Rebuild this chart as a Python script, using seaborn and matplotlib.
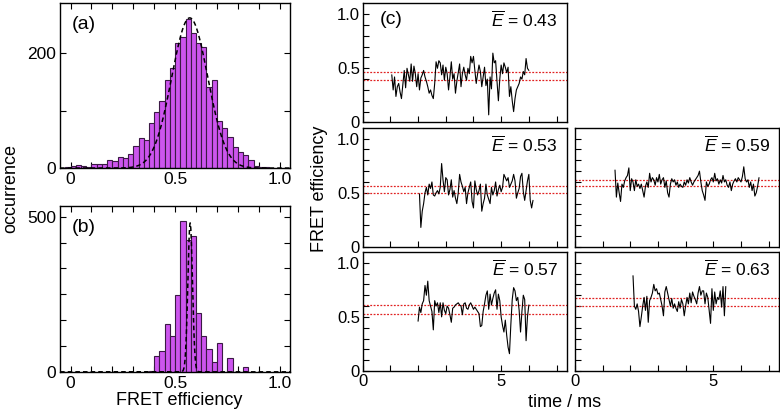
import numpy as np
import pandas as pd
import seaborn as sns
import matplotlib.pyplot as plt

sns.set_theme(style='ticks')
plt.rcParams['font.family'] = ['Liberation Sans', 'DejaVu Sans']
plt.rcParams['mathtext.fontset'] = 'custom'
plt.rcParams['mathtext.it'] = 'Liberation Sans:italic'
plt.rcParams['mathtext.rm'] = 'Liberation Sans'
plt.rcParams['axes.edgecolor'] = 'black'
plt.rcParams['axes.linewidth'] = 1.0
plt.rcParams['text.color'] = 'black'
plt.rcParams['xtick.labelcolor'] = 'black'
plt.rcParams['ytick.labelcolor'] = 'black'

# %% histogram data (bin width 0.025)
bin_w = 0.025
hist_a_start = -0.025
hist_a_counts = [1, 4, 5, 3, 1, 7, 7, 7, 14, 12, 20, 18, 25, 39, 53, 49, 79, 98, 116, 153,
                 174, 218, 228, 259, 234, 217, 211, 141, 153, 82, 69, 54, 37, 28, 23, 14, 4, 2, 1]
hist_b_start = 0.375
hist_b_counts = [2, 50, 67, 154, 116, 248, 485, 424, 439, 191, 114, 74, 32, 92, 0, 46, 0, 0, 17]

# gaussian fits (amplitude, mean, sigma)
fit_a = (261, 0.57, 0.086)
fit_b = (480, 0.572, 0.011)

# %% single-molecule traces (bin 0.05 ms)
dt = 0.05
traces = {
    'tl': dict(t0=1.05, mean='0.43', band=(0.39, 0.47), e=[
        0.44, 0.30, 0.42, 0.24, 0.33, 0.36, 0.28, 0.22, 0.35, 0.48, 0.32, 0.50, 0.44, 0.38, 0.54,
        0.38, 0.52, 0.45, 0.33, 0.45, 0.30, 0.41, 0.44, 0.48, 0.42, 0.38, 0.33, 0.27, 0.30, 0.25,
        0.22, 0.36, 0.56, 0.50, 0.57, 0.55, 0.44, 0.53, 0.39, 0.51, 0.45, 0.30, 0.42, 0.56, 0.40,
        0.45, 0.27, 0.38, 0.46, 0.54, 0.33, 0.45, 0.51, 0.44, 0.39, 0.50, 0.45, 0.61, 0.55, 0.61,
        0.48, 0.36, 0.45, 0.53, 0.47, 0.33, 0.42, 0.51, 0.34, 0.40, 0.07, 0.42, 0.31, 0.64, 0.55,
        0.57, 0.38, 0.20, 0.40, 0.53, 0.45, 0.55, 0.51, 0.46, 0.51, 0.24, 0.33, 0.20, 0.10, 0.22,
        0.30, 0.33, 0.36, 0.42, 0.40, 0.47, 0.44, 0.59, 0.50, 0.48]),
    'ml': dict(t0=2.05, mean='0.53', band=(0.50, 0.56), e=[
        0.49, 0.18, 0.33, 0.40, 0.50, 0.55, 0.48, 0.58, 0.54, 0.60, 0.48, 0.47, 0.50, 0.52, 0.49,
        0.55, 0.77, 0.62, 0.51, 0.64, 0.62, 0.48, 0.53, 0.62, 0.46, 0.52, 0.45, 0.40, 0.50, 0.67,
        0.60, 0.56, 0.51, 0.55, 0.40, 0.50, 0.55, 0.60, 0.42, 0.36, 0.61, 0.53, 0.48, 0.52, 0.58,
        0.33, 0.40, 0.45, 0.58, 0.48, 0.44, 0.40, 0.55, 0.48, 0.52, 0.60, 0.47, 0.53, 0.57, 0.51,
        0.55, 0.67, 0.64, 0.61, 0.64, 0.55, 0.58, 0.61, 0.67, 0.61, 0.45, 0.50, 0.54, 0.65, 0.68,
        0.51, 0.43, 0.52, 0.61, 0.67, 0.43, 0.36, 0.43]),
    'mr': dict(t0=1.45, mean='0.59', band=(0.565, 0.62), e=[
        0.71, 0.46, 0.59, 0.50, 0.42, 0.58, 0.55, 0.61, 0.64, 0.66, 0.73, 0.52, 0.63, 0.60, 0.52,
        0.62, 0.56, 0.58, 0.54, 0.58, 0.52, 0.46, 0.56, 0.60, 0.55, 0.68, 0.60, 0.64, 0.62, 0.57,
        0.64, 0.60, 0.67, 0.58, 0.62, 0.64, 0.55, 0.61, 0.50, 0.46, 0.58, 0.63, 0.60, 0.62, 0.57,
        0.60, 0.55, 0.58, 0.56, 0.55, 0.60, 0.57, 0.62, 0.59, 0.64, 0.60, 0.57, 0.60, 0.62, 0.64,
        0.66, 0.70, 0.60, 0.52, 0.48, 0.43, 0.60, 0.56, 0.58, 0.62, 0.64, 0.60, 0.68, 0.61, 0.63,
        0.58, 0.62, 0.59, 0.66, 0.60, 0.62, 0.57, 0.55, 0.60, 0.52, 0.58, 0.61, 0.63, 0.60, 0.64,
        0.62, 0.60, 0.65, 0.74, 0.63, 0.60, 0.62, 0.55, 0.60, 0.52, 0.58, 0.47, 0.50, 0.56, 0.64]),
    'bl': dict(t0=2.00, mean='0.57', band=(0.53, 0.61), e=[
        0.46, 0.59, 0.54, 0.62, 0.65, 0.79, 0.70, 0.83, 0.65, 0.60, 0.55, 0.38, 0.65, 0.60, 0.63,
        0.54, 0.63, 0.50, 0.63, 0.56, 0.53, 0.60, 0.58, 0.52, 0.45, 0.58, 0.59, 0.61, 0.62, 0.63,
        0.61, 0.60, 0.52, 0.62, 0.63, 0.58, 0.57, 0.61, 0.63, 0.60, 0.57, 0.59, 0.57, 0.55, 0.53,
        0.41, 0.42, 0.55, 0.62, 0.70, 0.74, 0.57, 0.71, 0.61, 0.67, 0.72, 0.75, 0.57, 0.71, 0.65,
        0.50, 0.42, 0.36, 0.47, 0.33, 0.22, 0.16, 0.43, 0.66, 0.77, 0.74, 0.65, 0.68, 0.56, 0.36,
        0.55, 0.70, 0.66, 0.28, 0.50, 0.61]),
    'br': dict(t0=2.10, mean='0.63', band=(0.60, 0.67), e=[
        0.88, 0.60, 0.57, 0.62, 0.55, 0.41, 0.50, 0.60, 0.68, 0.56, 0.69, 0.45, 0.65, 0.68, 0.72,
        0.80, 0.74, 0.76, 0.71, 0.72, 0.66, 0.60, 0.51, 0.73, 0.78, 0.72, 0.66, 0.60, 0.67, 0.58,
        0.62, 0.58, 0.55, 0.64, 0.58, 0.66, 0.62, 0.51, 0.60, 0.68, 0.62, 0.72, 0.63, 0.73, 0.69,
        0.66, 0.62, 0.72, 0.78, 0.70, 0.74, 0.74, 0.62, 0.72, 0.68, 0.56, 0.44, 0.76, 0.56, 0.73,
        0.62, 0.68, 0.66, 0.74, 0.59, 0.78, 0.51, 0.78]),
}

BAR = '#cc55ee'
EDGE = '#3b1a45'
RED = '#e02222'
FS = 13


def sparse_labels(ticks, keep, fmt):
    return [fmt(t) if any(abs(t - k) < 1e-6 for k in keep) else '' for t in ticks]


fig = plt.figure(figsize=(7.8, 4.15), dpi=100)

# %% (a) and (b) histograms
ax_a = fig.add_axes([0.077, 0.595, 0.295, 0.398])
ax_b = fig.add_axes([0.077, 0.104, 0.295, 0.400])
for ax, start, counts, fit, ylim, yt, ykeep, lab in [
        (ax_a, hist_a_start, hist_a_counts, fit_a, 287, [0, 100, 200], [0, 200], '(a)'),
        (ax_b, hist_b_start, hist_b_counts, fit_b, 535, list(np.linspace(0, 500, 7)), [0, 500], '(b)')]:
    n = len(counts)
    df = pd.DataFrame({'E': start + bin_w * (np.arange(n) + 0.5), 'n': counts})
    sns.histplot(data=df, x='E', weights='n', binwidth=bin_w,
                 binrange=(start, start + bin_w * n), ax=ax, color=BAR,
                 edgecolor=EDGE, linewidth=0.8, alpha=1)
    xs = np.linspace(-0.05, 1.1, 2000)
    amp, mu, sig = fit
    ax.plot(xs, amp * np.exp(-0.5 * ((xs - mu) / sig) ** 2), color='black',
            ls=(0, (3, 2)), lw=1.1)
    ax.set_xlim(-0.05, 1.05)
    ax.set_ylim(0, ylim)
    xt = list(np.round(np.arange(0, 1.01, 0.1), 2))
    ax.set_xticks(xt)
    ax.set_xticklabels(sparse_labels(xt, [0, 0.5, 1.0], lambda v: '0' if v == 0 else f'{v:.1f}'))
    ax.set_yticks(yt)
    ax.set_yticklabels(sparse_labels(yt, ykeep, lambda v: f'{v:.0f}'))
    ax.tick_params(direction='in', length=4, width=0.8, top=True, right=True,
                   labelsize=FS - 0.5, pad=3, color='black')
    ax.set_xlabel('')
    ax.set_ylabel('')
    ax.text(0.05, 0.87, lab, transform=ax.transAxes, fontsize=FS + 1, va='center')

fig.text(0.014, 0.545, 'occurrence', rotation=90, ha='center', va='center', fontsize=FS)
fig.text(0.23, 0.036, 'FRET efficiency', ha='center', va='center', fontsize=FS)

# %% (c) traces
cols = {'l': 0.465, 'r': 0.737}
rows = {'t': 0.705, 'm': 0.405, 'b': 0.106}
for key, tr in traces.items():
    row, col = key[0], key[1]
    ax = fig.add_axes([cols[col], rows[row], 0.262, 0.287])
    e = np.array(tr['e'])
    t = tr['t0'] + dt * np.arange(len(e))
    for level in tr['band']:
        ax.axhline(level, color=RED, ls=(0, (1.5, 1.2)), lw=0.9)
    sns.lineplot(x=t, y=e, ax=ax, color='black', linewidth=0.8)
    ax.set_xlim(0, 7.38)
    ax.set_ylim(0, 1.1)
    xt = list(range(0, 8))
    yt = list(np.round(np.arange(0, 1.01, 0.1), 2))
    ax.set_xticks(xt)
    ax.set_yticks(yt)
    if row == 'b':
        ax.set_xticklabels(sparse_labels(xt, [0, 5], lambda v: f'{v:d}'))
    else:
        ax.set_xticklabels([''] * len(xt))
    if col == 'l':
        ax.set_yticklabels(sparse_labels(yt, [0, 0.5, 1.0], lambda v: '0' if v == 0 else f'{v:.1f}'))
    else:
        ax.set_yticklabels([''] * len(yt))
    ax.tick_params(direction='in', length=4, width=0.8, labelsize=FS - 1, pad=2, color='black')
    ax.text(0.955, 0.86, r'$\overline{E}$ = ' + tr['mean'], transform=ax.transAxes,
            ha='right', va='center', fontsize=FS - 0.5)
    if key == 'tl':
        ax.text(0.083, 0.86, '(c)', transform=ax.transAxes, va='center', fontsize=FS + 1)

fig.text(0.41, 0.545, 'FRET efficiency', rotation=90, ha='center', va='center', fontsize=FS)
fig.text(0.724, 0.03, 'time / ms', ha='center', va='center', fontsize=FS)

fig.savefig('out.png', dpi=100)
